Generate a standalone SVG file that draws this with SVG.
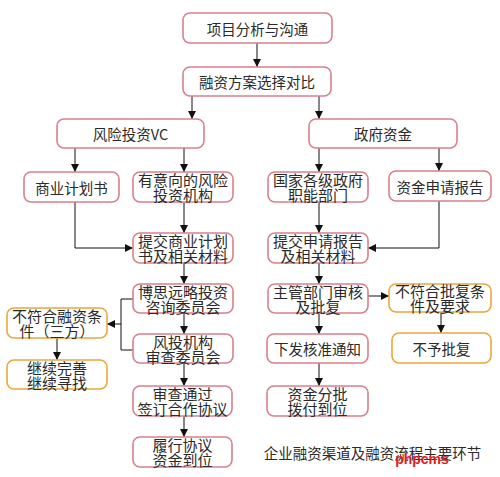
<svg xmlns="http://www.w3.org/2000/svg" width="500" height="477" viewBox="0 0 500 477">
<defs>
<style>
.b{fill:#fff;stroke:#d9808a;stroke-width:1.6}
.o{fill:#fff;stroke:#e9a83c;stroke-width:1.6}
text{font-family:"Noto Sans CJK SC","Noto Sans",sans-serif;font-size:14.5px;fill:#2a2a2a;text-anchor:middle;dominant-baseline:central}
.t{font-size:15px}
.c line,.c polyline{stroke:#111;stroke-width:1;fill:none;marker-end:url(#a)}
</style>
<marker id="a" viewBox="0 0 10 10" refX="10" refY="5" markerWidth="8" markerHeight="8" markerUnits="userSpaceOnUse" orient="auto"><path d="M0,0L10,5L0,10z" fill="#111"/></marker>
</defs>
<rect width="500" height="477" fill="#fff"/>
<g class="c" id="connectors">
<line x1="257" y1="43" x2="257" y2="67"/>
<line x1="192" y1="96" x2="192" y2="119"/>
<line x1="319" y1="96" x2="319" y2="119"/>
<line x1="75" y1="148" x2="75" y2="172"/>
<line x1="184" y1="148" x2="184" y2="172"/>
<line x1="319" y1="148" x2="319" y2="172"/>
<line x1="439" y1="148" x2="439" y2="171"/>
<line x1="184" y1="202" x2="184" y2="233"/>
<polyline points="75,202 75,248 133,248"/>
<line x1="319" y1="202" x2="319" y2="233"/>
<polyline points="439,201 439,248 368,248"/>
<line x1="184" y1="263" x2="184" y2="284"/>
<line x1="319" y1="263" x2="319" y2="284"/>
<line x1="368" y1="296" x2="389" y2="296"/>
<polyline points="133,299 121,299 121,350 133,350" style="marker-end:none"/>
<line x1="121" y1="324" x2="107" y2="324"/>
<line x1="184" y1="313" x2="184" y2="334"/>
<line x1="57" y1="338" x2="57" y2="360"/>
<line x1="319" y1="313" x2="319" y2="334"/>
<line x1="441" y1="312" x2="441" y2="333"/>
<line x1="184" y1="363" x2="184" y2="386"/>
<line x1="319" y1="363" x2="319" y2="386"/>
<line x1="184" y1="416" x2="184" y2="437"/>
</g>
<g id="n1"><rect class="b" x="183" y="13" width="149" height="30" rx="7"/><text x="257.5" y="28">项目分析与沟通</text></g>
<g id="n2"><rect class="b" x="183" y="67" width="148" height="29" rx="7"/><text x="257" y="81.5">融资方案选择对比</text></g>
<g id="n3"><rect class="b" x="57" y="119" width="147" height="29" rx="7"/><text x="130.5" y="133.5">风险投资VC</text></g>
<g id="n4"><rect class="b" x="309" y="119" width="148" height="29" rx="7"/><text x="383" y="133.5">政府资金</text></g>
<g id="n5"><rect class="b" x="24" y="172" width="95" height="30" rx="7"/><text x="71.5" y="187">商业计划书</text></g>
<g id="n6"><rect class="b" x="133" y="172" width="100" height="30" rx="7"/><text class="t" x="183" y="179.75">有意向的风险<tspan x="183" dy="14.5">投资机构</tspan></text></g>
<g id="n7"><rect class="b" x="268" y="172" width="100" height="30" rx="7"/><text class="t" x="318" y="179.75">国家各级政府<tspan x="318" dy="14.5">职能部门</tspan></text></g>
<g id="n8"><rect class="b" x="389" y="171" width="102" height="30" rx="7"/><text x="440" y="186">资金申请报告</text></g>
<g id="n9"><rect class="b" x="133" y="233" width="100" height="30" rx="7"/><text class="t" x="183" y="240.75">提交商业计划<tspan x="183" dy="14.5">书及相关材料</tspan></text></g>
<g id="n10"><rect class="b" x="268" y="233" width="100" height="30" rx="7"/><text class="t" x="318" y="240.75">提交申请报告<tspan x="318" dy="14.5">及相关材料</tspan></text></g>
<g id="n11"><rect class="b" x="133" y="284" width="100" height="29" rx="7"/><text class="t" x="183" y="291.25">博思远略投资<tspan x="183" dy="14.5">咨询委员会</tspan></text></g>
<g id="n12"><rect class="b" x="268" y="284" width="100" height="29" rx="7"/><text class="t" x="318" y="291.25">主管部门审核<tspan x="318" dy="14.5">及批复</tspan></text></g>
<g id="n13"><rect class="o" x="389" y="284" width="102" height="28" rx="7"/><text class="t" x="440" y="290.75">不符合批复条<tspan x="440" dy="14.5">件及要求</tspan></text></g>
<g id="n14"><rect class="o" x="7" y="308" width="100" height="30" rx="7"/><text class="t" x="57" y="315.75">不符合融资条<tspan x="57" dy="14.5">件（三方）</tspan></text></g>
<g id="n15"><rect class="b" x="133" y="334" width="100" height="29" rx="7"/><text class="t" x="183" y="341.25">风投机构<tspan x="183" dy="14.5">审查委员会</tspan></text></g>
<g id="n16"><rect class="b" x="267" y="334" width="101" height="29" rx="7"/><text x="317.5" y="348.5">下发核准通知</text></g>
<g id="n17"><rect class="o" x="392" y="333" width="99" height="30" rx="7"/><text x="441.5" y="348">不予批复</text></g>
<g id="n18"><rect class="o" x="7" y="360" width="100" height="29" rx="7"/><text class="t" x="57" y="367.25">继续完善<tspan x="57" dy="14.5">继续寻找</tspan></text></g>
<g id="n19"><rect class="b" x="133" y="386" width="99" height="30" rx="7"/><text class="t" x="182.5" y="393.75">审查通过<tspan x="182.5" dy="14.5">签订合作协议</tspan></text></g>
<g id="n20"><rect class="b" x="267" y="386" width="101" height="30" rx="7"/><text class="t" x="317.5" y="393.75">资金分批<tspan x="317.5" dy="14.5">拨付到位</tspan></text></g>
<g id="n21"><rect class="b" x="133" y="437" width="99" height="30" rx="7"/><text class="t" x="182.5" y="444.75">履行协议<tspan x="182.5" dy="14.5">资金到位</tspan></text></g>
<text x="372.5" y="452">企业融资渠道及融资流程主要环节</text>
<text x="422" y="459" style="font-family:'Liberation Sans',sans-serif;font-size:14px;font-weight:bold;fill:#e0201c">phpcms</text>
</svg>
